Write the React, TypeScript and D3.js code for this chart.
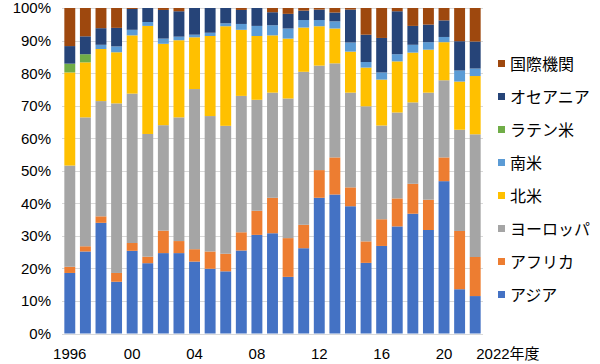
import * as d3 from 'd3';
import React, { useRef, useEffect } from 'react';

const years = [1996, 1997, 1998, 1999, 2000, 2001, 2002, 2003, 2004, 2005, 2006, 2007, 2008, 2009,
  2010, 2011, 2012, 2013, 2014, 2015, 2016, 2017, 2018, 2019, 2020, 2021, 2022];

const asia = [18.6, 25.2, 34.0, 15.9, 25.4, 21.6, 24.7, 24.7, 22.1, 19.9, 19.1, 25.5, 30.3, 30.8,
  17.4, 26.2, 41.7, 42.7, 39.1, 21.7, 26.9, 32.9, 36.8, 31.8, 46.8, 13.6, 11.5];
const africa = [1.9, 1.6, 2.0, 2.7, 2.4, 2.0, 6.9, 3.7, 3.8, 5.3, 5.4, 5.6, 7.4, 10.9,
  11.9, 7.2, 8.5, 11.4, 5.8, 6.6, 8.2, 8.6, 9.2, 9.3, 7.3, 17.9, 12.0];
const europe = [31.1, 39.6, 35.4, 52.1, 45.9, 37.7, 32.4, 38.0, 49.2, 41.6, 39.3, 41.9, 34.1, 32.3,
  42.9, 47.0, 32.1, 28.9, 29.1, 41.5, 28.8, 26.4, 25.0, 32.9, 23.7, 31.1, 37.7];
const northAmerica = [28.6, 16.9, 16.0, 15.7, 17.9, 33.2, 25.0, 23.7, 15.9, 24.6, 30.6, 20.3, 19.6, 17.6,
  18.4, 13.6, 12.1, 10.7, 12.6, 11.9, 14.1, 15.7, 15.3, 13.2, 11.7, 14.8, 17.9];
const southAmerica = [0, 0, 1.3, 1.8, 1.7, 1.2, 1.6, 1.1, 0.8, 1.0, 0.9, 1.8, 3.1, 3.1,
  3.1, 2.3, 1.9, 2.2, 2.8, 1.7, 2.2, 2.2, 2.4, 2.3, 1.6, 3.4, 2.3];
const latinAmerica = [2.7, 2.5, 0, 0, 0, 0, 0, 0, 0, 0, 0, 0, 0, 0,
  0, 0, 0, 0, 0, 0, 0, 0, 0, 0, 0, 0, 0];
const oceania = [5.4, 5.5, 5.1, 5.7, 6.4, 4.3, 8.8, 7.8, 8.2, 7.6, 4.7, 4.3, 5.5, 4.0,
  4.5, 2.9, 3.2, 2.7, 10.1, 8.4, 10.6, 13.2, 5.8, 5.4, 5.1, 9.0, 8.3];
const international = [11.7, 8.7, 6.2, 6.1, 0.3, 0, 0.6, 1.0, 0, 0, 0, 0.6, 0, 1.3,
  1.8, 0.8, 0.5, 1.4, 0.5, 8.2, 9.2, 1.0, 5.5, 5.1, 3.8, 10.2, 10.3];

const seriesNames = ['アジア', 'アフリカ', 'ヨーロッパ', '北米', '南米', 'ラテン米', 'オセアニア', '国際機関'];
const seriesValues = [asia, africa, europe, northAmerica, southAmerica, latinAmerica, oceania, international];
const colors = ['#4472C4', '#ED7D31', '#A5A5A5', '#FFC000', '#5B9BD5', '#70AD47', '#264478', '#9E480E'];

const xTickYears = [1996, 2000, 2004, 2008, 2012, 2016, 2020];
const yTicks = [0, 10, 20, 30, 40, 50, 60, 70, 80, 90, 100];

const width = 600;
const height = 364;
const margin = { top: 8, right: 117, bottom: 30, left: 62 };
const font = '"Liberation Sans", Arial, "Noto Sans CJK JP", sans-serif';

const App = () => {
  const svgRef = useRef(null);

  useEffect(() => {
    const svg = d3.select(svgRef.current);
    svg.selectAll('*').remove();

    const x = d3.scaleBand<number>()
      .domain(years)
      .range([margin.left, width - margin.right])
      .paddingInner(0.3)
      .paddingOuter(0.15);
    const y = d3.scaleLinear()
      .domain([0, 100])
      .range([height - margin.bottom - 0.5, margin.top]);

    // gridlines
    svg.append('g')
      .selectAll('line')
      .data(yTicks)
      .join('line')
      .attr('x1', margin.left)
      .attr('x2', width - margin.right)
      .attr('y1', d => Math.round(y(d)) + 0.5)
      .attr('y2', d => Math.round(y(d)) + 0.5)
      .attr('stroke', '#d9d9d9')
      .attr('stroke-width', 1);

    svg.append('g')
      .selectAll('text')
      .data(yTicks)
      .join('text')
      .attr('x', 51)
      .attr('y', d => y(d))
      .attr('dy', '0.36em')
      .attr('text-anchor', 'end')
      .attr('font-family', font)
      .attr('font-size', 15)
      .attr('fill', '#000')
      .text(d => `${d}%`);

    // stacked bars
    const rows = years.map((yr, i) => {
      const r: any = { year: yr };
      seriesNames.forEach((n, k) => { r[n] = seriesValues[k][i]; });
      return r;
    });
    const stack = d3.stack().keys(seriesNames)(rows);

    svg.append('g')
      .selectAll('g')
      .data(stack)
      .join('g')
      .attr('fill', (_, k) => colors[k])
      .selectAll('rect')
      .data(d => d)
      .join('rect')
      .attr('x', d => x(d.data.year as number)!)
      .attr('width', x.bandwidth())
      .attr('y', d => y(d[1]))
      .attr('height', d => Math.max(0, y(d[0]) - y(d[1])));

    // bottom axis line
    svg.append('line')
      .attr('x1', margin.left)
      .attr('x2', width - margin.right)
      .attr('y1', Math.round(y(0)) + 0.5)
      .attr('y2', Math.round(y(0)) + 0.5)
      .attr('stroke', '#d9d9d9');

    svg.append('g')
      .selectAll('text')
      .data(xTickYears)
      .join('text')
      .attr('x', d => x(d)! + x.bandwidth() / 2)
      .attr('y', 359)
      .attr('text-anchor', 'middle')
      .attr('font-family', font)
      .attr('font-size', 15)
      .text(d => d === 1996 ? '1996' : String(d % 100).padStart(2, '0'));

    svg.append('text')
      .attr('x', x(2022)! + x.bandwidth() / 2 + 1)
      .attr('y', 359)
      .attr('font-family', font)
      .attr('font-size', 15)
      .text('2022年度');

    // legend, top item is last series
    const legend = svg.append('g')
      .selectAll('g')
      .data(seriesNames.map((n, k) => ({ n, k })).reverse())
      .join('g')
      .attr('transform', (_, i) => `translate(498,${64 + i * 33})`);
    legend.append('rect')
      .attr('x', 0)
      .attr('y', -4)
      .attr('width', 7)
      .attr('height', 7)
      .attr('fill', d => colors[d.k]);
    legend.append('text')
      .attr('x', 12)
      .attr('y', 0)
      .attr('dy', '0.36em')
      .attr('font-family', font)
      .attr('font-size', 16)
      .text(d => d.n);
  }, []);

  return (
    <svg ref={svgRef} width={width} height={height}
      style={{ position: 'absolute', left: 0, top: 0, background: '#fff' }} />
  );
};

export default App;
